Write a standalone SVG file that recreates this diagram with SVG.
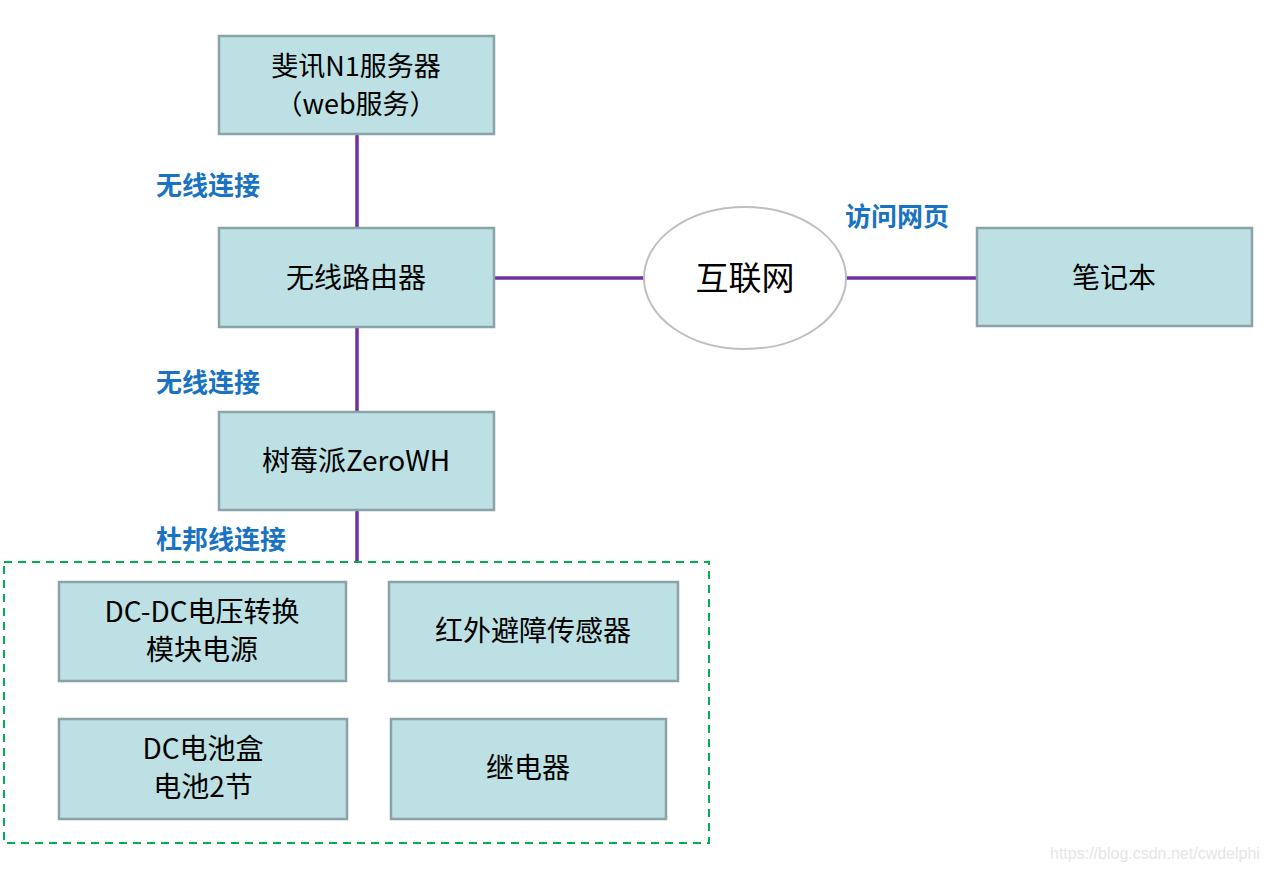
<svg xmlns="http://www.w3.org/2000/svg" width="1267" height="871" viewBox="0 0 1267 871">
<style>
.box{fill:#bce0e3;stroke:#8aa3a6;stroke-width:2.5}
.t{font-family:"Noto Sans CJK SC","Noto Sans",sans-serif;font-size:28px;fill:#000;text-anchor:middle}
.lbl{font-family:"Noto Sans CJK SC","Noto Sans",sans-serif;font-size:26px;font-weight:bold;fill:#1a73c2}
.ln{stroke:#7030a0;stroke-width:3.5;fill:none}
</style>
<rect width="1267" height="871" fill="#fff"/>
<g id="connectors">
<line class="ln" x1="357" y1="135" x2="357" y2="228"/>
<line class="ln" x1="357" y1="328" x2="357" y2="412"/>
<line class="ln" x1="357" y1="511" x2="357" y2="562"/>
<line class="ln" x1="495" y1="278" x2="644" y2="278"/>
<line class="ln" x1="846" y1="278" x2="977" y2="278"/>
</g>
<g id="labels">
<text class="lbl" x="156" y="195">无线连接</text>
<text class="lbl" x="156" y="392">无线连接</text>
<text class="lbl" x="156" y="549">杜邦线连接</text>
<text class="lbl" x="845" y="226">访问网页</text>
</g>
<g id="n1"><rect class="box" x="219" y="36" width="275" height="98"/>
<text class="t" x="356" y="76" style="font-size:27px">斐讯N1服务器</text><text class="t" x="356" y="114" style="font-size:27px">（web服务）</text></g>
<g id="router"><rect class="box" x="219" y="228" width="275" height="99"/>
<text class="t" x="356" y="288">无线路由器</text></g>
<g id="internet"><ellipse cx="745" cy="278" rx="101" ry="71" fill="#fff" stroke="#bfbfbf" stroke-width="2"/>
<text class="t" x="745" y="290" style="font-size:33px">互联网</text></g>
<g id="laptop"><rect class="box" x="977" y="228" width="275" height="98"/>
<text class="t" x="1114" y="288">笔记本</text></g>
<g id="pi"><rect class="box" x="219" y="412" width="275" height="98"/>
<text class="t" x="356" y="471">树莓派ZeroWH</text></g>
<g id="group"><rect x="4" y="562" width="705" height="281" fill="none" stroke="#00b050" stroke-width="2" stroke-dasharray="8,6"/></g>
<g id="dcdc"><rect class="box" x="59" y="582" width="287" height="99"/>
<text class="t" x="202" y="622">DC-DC电压转换</text><text class="t" x="202" y="660">模块电源</text></g>
<g id="ir"><rect class="box" x="389" y="582" width="289" height="99"/>
<text class="t" x="533" y="641">红外避障传感器</text></g>
<g id="battery"><rect class="box" x="59" y="719" width="288" height="100"/>
<text class="t" x="203" y="759">DC电池盒</text><text class="t" x="203" y="797">电池2节</text></g>
<g id="relay"><rect class="box" x="391" y="719" width="275" height="100"/>
<text class="t" x="528" y="778">继电器</text></g>
<text x="1050" y="859" style="font-family:'Liberation Sans',sans-serif;font-size:16px;fill:#e6e6e6">https://blog.csdn.net/cwdelphi</text>
</svg>
